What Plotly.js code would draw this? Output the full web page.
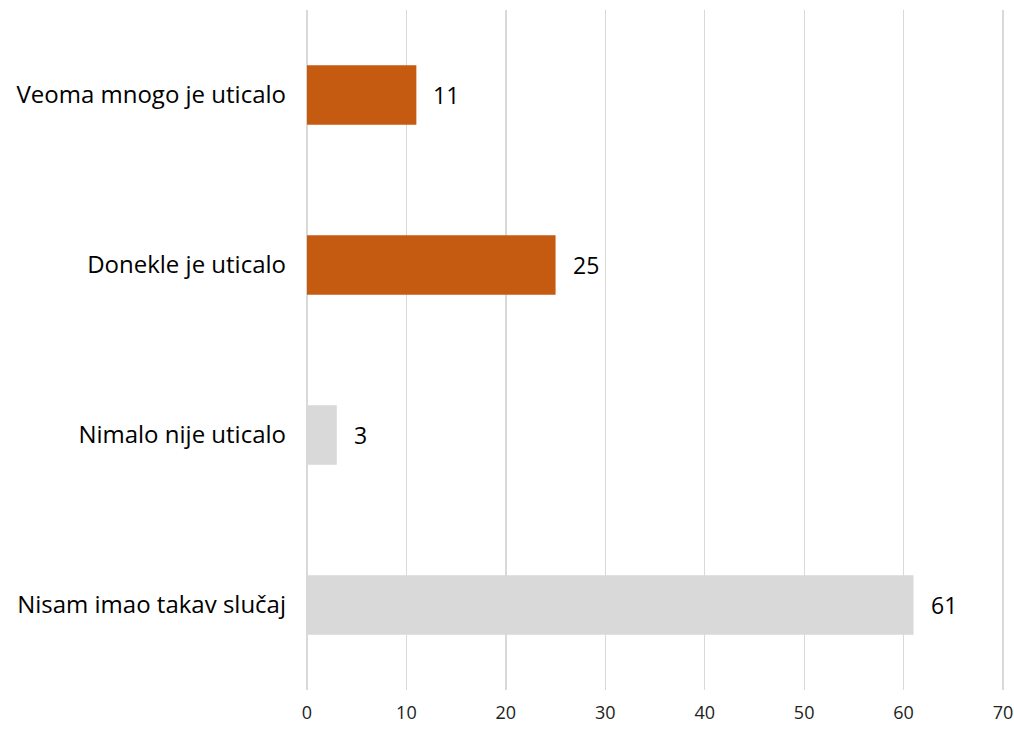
<!DOCTYPE html>
<html>
<head>
<meta charset="utf-8">
<script src="https://cdn.plot.ly/plotly-3.0.1.min.js"></script>
<style>html,body{margin:0;padding:0;background:#fff;}#chart{width:1014px;height:731px;}</style>
</head>
<body>
<div id="chart"></div>
<script>
const categories = ["Veoma mnogo je uticalo", "Donekle je uticalo", "Nimalo nije uticalo", "Nisam imao takav slučaj"];
const values = [11, 25, 3, 61];
const barColors = ["#C55A11", "#C55A11", "#D9D9D9", "#D9D9D9"];
const tickVals = [0, 10, 20, 30, 40, 50, 60, 70];

const FONT = "'Open Sans', sans-serif";

const trace = {
  type: "bar",
  orientation: "h",
  x: values,
  y: categories,
  marker: { color: barColors, line: { width: 0 } },
  hoverinfo: "none"
};

const annotations = values.map((v, i) => ({
  x: v, y: categories[i], xref: "x", yref: "y",
  text: String(v), showarrow: false, xanchor: "left", xshift: 15,
  font: { family: FONT, size: 23, color: "#000" }
}));

const layout = {
  width: 1014, height: 731,
  margin: { l: 304, r: 8, t: 10, b: 41 },
  paper_bgcolor: "#fff", plot_bgcolor: "#fff",
  showlegend: false,
  bargap: 0.65,
  xaxis: {
    range: [-0.3, 70.3], tickvals: tickVals, ticktext: tickVals.map(String),
    showgrid: true, gridcolor: "#D9D9D9", gridwidth: 1.3,
    zeroline: false, showline: false, ticks: "",
    ticklabelstandoff: 10,
    ticklabeloverflow: "allow",
    tickfont: { family: FONT, size: 18, color: "#222" },
    fixedrange: true
  },
  yaxis: {
    autorange: "reversed", showgrid: false, zeroline: false, showline: false, ticks: "",
    ticklabelstandoff: 17,
    tickfont: { family: FONT, size: 24, color: "#000" },
    fixedrange: true
  },
  annotations: annotations
};

Plotly.newPlot("chart", [trace], layout, { displayModeBar: false, staticPlot: true });
</script>
</body>
</html>
